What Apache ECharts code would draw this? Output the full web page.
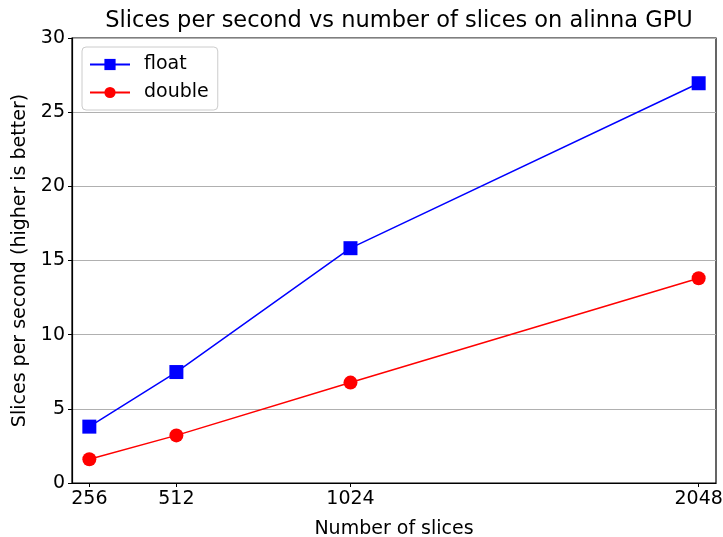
<!DOCTYPE html>
<html>
<head>
<meta charset="utf-8">
<script src="https://cdn.jsdelivr.net/npm/echarts@6/dist/echarts.min.js"></script>
<style>html,body{margin:0;padding:0;background:#fff}#c{width:723px;height:537px}</style>
</head>
<body>
<div id="c"></div>
<script>
const slices = [256, 512, 1024, 2048];
const floatVals = [3.8, 7.48, 15.83, 26.95];
const doubleVals = [1.6, 3.21, 6.77, 13.8];
const yTicks = [0, 5, 10, 15, 20, 25, 30];
const title = 'Slices per second vs number of slices on alinna GPU';
const xName = 'Number of slices';
const yName = 'Slices per second (higher is better)';

const font = 'DejaVu Sans';
const chart = echarts.init(document.getElementById('c'), null, {renderer: 'canvas'});
chart.setOption({
  animation: false,
  backgroundColor: '#fff',
  title: {
    text: title, left: 394, textAlign: 'center', top: 5,
    textStyle: {fontFamily: font, fontSize: 22.5, fontWeight: 'normal', color: '#000'}
  },
  legend: {
    orient: 'vertical', left: 82, top: 47,
    data: ['float', 'double'],
    itemWidth: 40, itemHeight: 14, itemGap: 9,
    padding: [8, 9, 8, 7],
    backgroundColor: '#fff', borderColor: '#ccc', borderWidth: 1, borderRadius: 4,
    textStyle: {fontFamily: font, fontSize: 19, color: '#000', padding: [0, 0, 0, 9]}
  },
  grid: {
    left: 72, right: 7, top: 38, bottom: 54, outerBoundsMode: 'none', containLabel: false,
    show: true, borderColor: '#000', borderWidth: 1.2, backgroundColor: 'transparent'
  },
  xAxis: {
    type: 'value', min: 205, max: 2099,
    name: xName, nameLocation: 'middle', nameGap: 37,
    nameTextStyle: {fontFamily: font, fontSize: 19, color: '#000'},
    axisLine: {show: true, onZero: false, lineStyle: {color: '#000', width: 1.2}},
    axisTick: {show: true, length: 4, customValues: slices, lineStyle: {color: '#000'}},
    axisLabel: {customValues: slices, formatter: v => String(v), fontFamily: font, fontSize: 19, color: '#000', margin: 7},
    splitLine: {show: false}
  },
  yAxis: {
    type: 'value', min: 0, max: 30, interval: 5,
    name: yName, nameLocation: 'middle', nameGap: 41,
    nameTextStyle: {fontFamily: font, fontSize: 19, color: '#000'},
    axisLine: {show: true, lineStyle: {color: '#000', width: 1.2}},
    axisTick: {show: true, length: 4, customValues: yTicks, lineStyle: {color: '#000'}},
    axisLabel: {customValues: yTicks, formatter: v => String(v), fontFamily: font, fontSize: 19, color: '#000', margin: 7},
    splitLine: {show: true, lineStyle: {color: '#b0b0b0', width: 1}}
  },
  series: [
    {
      name: 'float', type: 'line',
      data: slices.map((s, i) => [s, floatVals[i]]),
      symbol: 'rect', symbolSize: 14,
      itemStyle: {color: '#0000ff'},
      lineStyle: {color: '#0000ff', width: 1.5}
    },
    {
      name: 'double', type: 'line',
      data: slices.map((s, i) => [s, doubleVals[i]]),
      symbol: 'circle', symbolSize: 14,
      itemStyle: {color: '#ff0000'},
      lineStyle: {color: '#ff0000', width: 1.5}
    }
  ]
});
</script>
</body>
</html>
